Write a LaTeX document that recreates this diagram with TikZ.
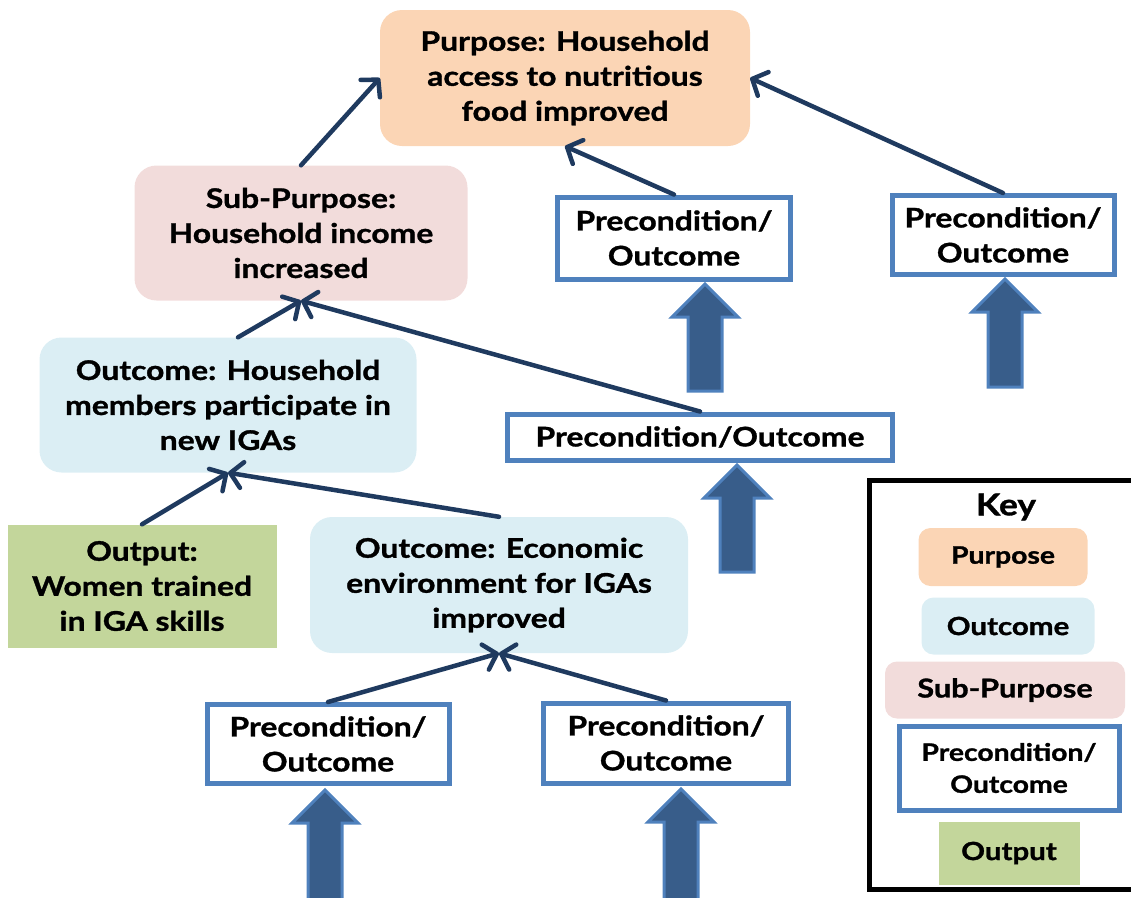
\documentclass[tikz,border=0pt]{standalone}
\usepackage{fontspec}
\setmainfont{Lato}[FakeStretch=1.18, BoldFeatures={FakeBold=1.2}]
\usetikzlibrary{arrows.meta}

\definecolor{peach}{HTML}{FBD5B5}
\definecolor{rose}{HTML}{F2DCDB}
\definecolor{paleblue}{HTML}{DBEEF4}
\definecolor{leaf}{HTML}{C3D69B}
\definecolor{frameblue}{HTML}{4F81BD}
\definecolor{navy}{HTML}{1F3A5F}
\definecolor{blockfill}{HTML}{385D8A}

\tikzset{
  every node/.style={font=\bfseries\fontsize{27}{35}\selectfont, align=center, inner sep=0pt},
  softbox/.style={rounded corners=22pt, minimum width=#1},
  purposebox/.style={softbox=370pt, fill=peach, minimum height=136pt},
  subbox/.style={softbox=333pt, fill=rose, minimum height=135pt},
  outcomebox/.style={softbox=#1, fill=paleblue, minimum height=135pt},
  outputbox/.style={fill=leaf, minimum width=269pt, minimum height=123pt},
  precbox/.style={draw=frameblue, line width=5pt, fill=white},
  keytext/.style={font=\bfseries\fontsize{#1}{32}\selectfont},
  keytext/.default=24,
  conn/.style={draw=navy, line width=4.5pt, line cap=round,
    -{Straight Barb[length=12pt, width=26pt, line cap=round, line join=round]}},
  blockarrow/.style={fill=blockfill, draw=frameblue, line width=3pt, line join=miter},
}

% upward block arrow: tip x, tip y, bottom y
\newcommand\upblock[3]{%
  \filldraw[blockarrow] (#1,#2) -- ({#1+33},{#2+33}) -- ({#1+17},{#2+33})
    -- ({#1+17},#3) -- ({#1-17},#3) -- ({#1-17},{#2+33}) -- ({#1-33},{#2+33}) -- cycle;}

\begin{document}
\begin{tikzpicture}[x=1pt, y=-1pt]
\useasboundingbox (0,0) rectangle (1131,897);

% block arrows feeding the precondition boxes
\upblock{705}{284}{391}
\upblock{1005}{279}{387}
\upblock{737}{465}{572}
\upblock{325}{790}{905}
\upblock{681}{789}{905}

% main boxes
\node[purposebox] (purpose) at (565,78) {Purpose: Household\\access to nutritious\\food improved};
\node[subbox] (sub) at (301,233) {Sub-Purpose:\\Household income\\increased};
\node[outcomebox=377pt] (hh) at (228,405) {Outcome: Household\\members participate in\\new IGAs};
\node[outputbox] (out) at (142,586) {Output:\\Women trained\\in IGA skills};
\node[outcomebox=378pt, minimum height=136pt] (econ) at (499,585) {Outcome: Economic\\environment for IGAs\\improved};

\node[precbox, minimum width=233pt, minimum height=82pt] (pmid) at (674,238) {Precondition/\\Outcome};
\node[precbox, minimum width=222pt, minimum height=79pt] (pright) at (1003,235) {Precondition/\\Outcome};
\node[precbox, minimum width=385pt, minimum height=46pt] (wide) at (700,437) {Precondition/Outcome};
\node[precbox, minimum width=242pt, minimum height=79pt] (pbl) at (328,744) {Precondition/\\Outcome};
\node[precbox, minimum width=245pt, minimum height=80pt] (pbr) at (666,743) {Precondition/\\Outcome};

% connectors
\draw[conn] (sub.north) -- (purpose.west);
\draw[conn] (pmid.north) -- (purpose.south);
\draw[conn] (pright.north) -- (purpose.east);
\draw[conn] ([xshift=10pt]hh.north) -- (sub.south);
\draw[conn] (wide.north) -- (sub.south);
\draw[conn] (out.north) -- (hh.south);
\draw[conn] (econ.north) -- (hh.south);
\draw[conn] (pbl.north) -- (econ.south);
\draw[conn] (pbr.north) -- (econ.south);

% key
\draw[line width=5pt] (1140,480.5) -| (869.5,889.5) -- (1140,889.5);
\node[font=\bfseries\fontsize{30}{36}\selectfont] (keytitle) at (1006,507) {Key};
\node[keytext=24, fill=peach, rounded corners=12pt, minimum width=169pt, minimum height=58pt] (kpur) at (1003,557) {Purpose};
\node[keytext=25, fill=paleblue, rounded corners=12pt, minimum width=173pt, minimum height=57pt] (kout) at (1008,626) {Outcome};
\node[keytext=26, fill=rose, rounded corners=12pt, minimum width=240pt, minimum height=57pt] (ksub) at (1005,690) {Sub-Purpose};
\node[keytext=24, precbox, minimum width=220pt, minimum height=84pt] (kpre) at (1009,768) {Precondition/\\Outcome};
\node[keytext=25, fill=leaf, minimum width=141pt, minimum height=63pt] (kput) at (1009,853) {Output};
\end{tikzpicture}
\end{document}
